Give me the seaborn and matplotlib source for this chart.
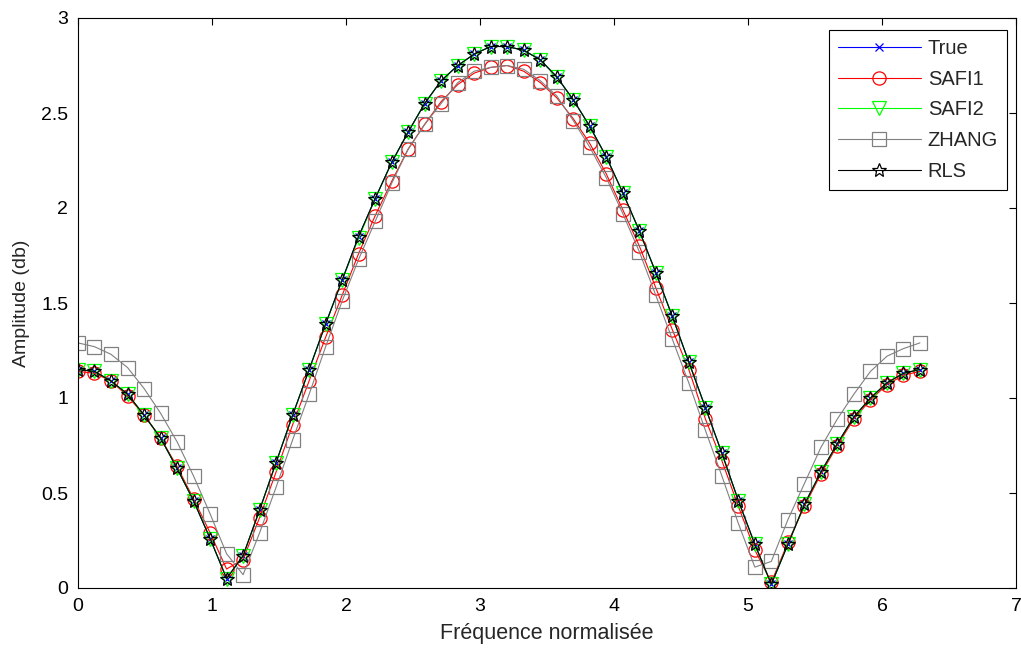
import numpy as np
import pandas as pd
import matplotlib
matplotlib.use("Agg")
import matplotlib.pyplot as plt
import seaborn as sns

freq = [0.000, 0.123, 0.246, 0.370, 0.493, 0.616, 0.739, 0.862, 0.986, 1.109,
        1.232, 1.355, 1.478, 1.602, 1.725, 1.848, 1.971, 2.094, 2.218, 2.341,
        2.464, 2.587, 2.710, 2.834, 2.957, 3.080, 3.203, 3.326, 3.450, 3.573,
        3.696, 3.819, 3.942, 4.066, 4.189, 4.312, 4.435, 4.558, 4.682, 4.805,
        4.928, 5.051, 5.174, 5.298, 5.421, 5.544, 5.667, 5.790, 5.914, 6.037,
        6.160, 6.283]

true_amp = [1.15, 1.14, 1.09, 1.02, 0.91, 0.79, 0.63, 0.46, 0.26, 0.05,
            0.17, 0.41, 0.66, 0.91, 1.15, 1.39, 1.62, 1.85, 2.05, 2.24,
            2.40, 2.55, 2.67, 2.75, 2.81, 2.85, 2.85, 2.83, 2.78, 2.69,
            2.57, 2.43, 2.27, 2.08, 1.88, 1.66, 1.43, 1.19, 0.95, 0.71,
            0.46, 0.23, 0.02, 0.23, 0.44, 0.61, 0.76, 0.90, 1.00, 1.08,
            1.13, 1.15]

safi1 = [1.14, 1.13, 1.09, 1.01, 0.91, 0.79, 0.64, 0.47, 0.29, 0.10,
         0.15, 0.37, 0.61, 0.86, 1.09, 1.32, 1.54, 1.76, 1.96, 2.14,
         2.31, 2.44, 2.56, 2.65, 2.71, 2.74, 2.75, 2.72, 2.66, 2.58,
         2.47, 2.34, 2.18, 1.99, 1.80, 1.58, 1.36, 1.15, 0.89, 0.67,
         0.43, 0.20, 0.03, 0.24, 0.43, 0.60, 0.75, 0.89, 0.99, 1.07,
         1.12, 1.14]

safi2 = [1.15, 1.14, 1.09, 1.02, 0.91, 0.79, 0.63, 0.46, 0.26, 0.05,
         0.17, 0.41, 0.66, 0.91, 1.15, 1.39, 1.62, 1.84, 2.05, 2.24,
         2.40, 2.55, 2.67, 2.75, 2.81, 2.85, 2.85, 2.83, 2.78, 2.69,
         2.57, 2.43, 2.27, 2.08, 1.88, 1.66, 1.43, 1.19, 0.95, 0.71,
         0.46, 0.23, 0.02, 0.23, 0.44, 0.61, 0.76, 0.90, 1.00, 1.08,
         1.13, 1.15]

zhang = [1.29, 1.27, 1.23, 1.16, 1.05, 0.92, 0.77, 0.59, 0.39, 0.18,
         0.07, 0.29, 0.53, 0.78, 1.02, 1.27, 1.51, 1.73, 1.93, 2.13,
         2.31, 2.44, 2.55, 2.66, 2.72, 2.74, 2.75, 2.73, 2.67, 2.59,
         2.46, 2.32, 2.16, 1.97, 1.77, 1.54, 1.31, 1.08, 0.83, 0.59,
         0.34, 0.11, 0.14, 0.36, 0.55, 0.74, 0.89, 1.02, 1.14, 1.22,
         1.26, 1.29]

rls = [1.15, 1.14, 1.09, 1.02, 0.91, 0.79, 0.63, 0.46, 0.26, 0.05,
       0.17, 0.41, 0.66, 0.91, 1.15, 1.39, 1.62, 1.85, 2.05, 2.24,
       2.40, 2.55, 2.67, 2.75, 2.81, 2.85, 2.85, 2.83, 2.78, 2.69,
       2.57, 2.43, 2.27, 2.08, 1.88, 1.66, 1.43, 1.19, 0.95, 0.71,
       0.46, 0.23, 0.02, 0.23, 0.44, 0.61, 0.76, 0.90, 1.00, 1.08,
       1.13, 1.15]

x_ticks = [0, 1, 2, 3, 4, 5, 6, 7]
y_ticks = [0, 0.5, 1, 1.5, 2, 2.5, 3]
y_tick_labels = ["0", "0.5", "1", "1.5", "2", "2.5", "3"]

sns.set_style("white")
plt.rcParams['font.family'] = ['Liberation Sans', 'DejaVu Sans']

fig = plt.figure(figsize=(10.21, 6.49), dpi=100)
ax = fig.add_axes([78 / 1021, 61 / 649, 938 / 1021, 570 / 649])

series = [
    ("True", true_amp, (0, 0, 1), "x", 6),
    ("SAFI1", safi1, (1, 0, 0), "o", 9.5),
    ("SAFI2", safi2, (0, 1, 0), "v", 9.5),
    ("ZHANG", zhang, (0.5, 0.5, 0.5), "s", 10.5),
    ("RLS", rls, (0, 0, 0), "*", 10),
]

for name, vals, col, mk, ms in series:
    df = pd.DataFrame({"f": freq, "a": vals})
    sns.lineplot(data=df, x="f", y="a", ax=ax, color=col, marker=mk,
                 markersize=ms, markerfacecolor="none", markeredgecolor=col,
                 markeredgewidth=0.9, linewidth=0.8, label=name,
                 estimator=None, sort=False)

ax.set_xlim(0, 7)
ax.set_ylim(0, 3)
ax.set_xticks(x_ticks)
ax.set_xticklabels([str(t) for t in x_ticks])
ax.set_yticks(y_ticks)
ax.set_yticklabels(y_tick_labels)
ax.tick_params(direction="in", top=True, right=True, length=5, width=0.8,
               labelsize=14, colors="black", pad=7)
for sp in ax.spines.values():
    sp.set_visible(True)
    sp.set_color("black")
    sp.set_linewidth(0.8)

ax.set_xlabel("Fréquence normalisée", fontsize=15.5, labelpad=6)
ax.set_ylabel("Amplitude (db)", fontsize=14, labelpad=8)

leg = ax.legend(loc="upper right", bbox_to_anchor=(0.9904, 0.979),
                borderaxespad=0, fontsize=14.5, frameon=True, fancybox=False,
                edgecolor="black", framealpha=1, handlelength=4.1,
                handletextpad=0.35, borderpad=0.45, labelspacing=0.58)
leg.get_frame().set_linewidth(0.8)

fig.savefig("out.png", dpi=100)
